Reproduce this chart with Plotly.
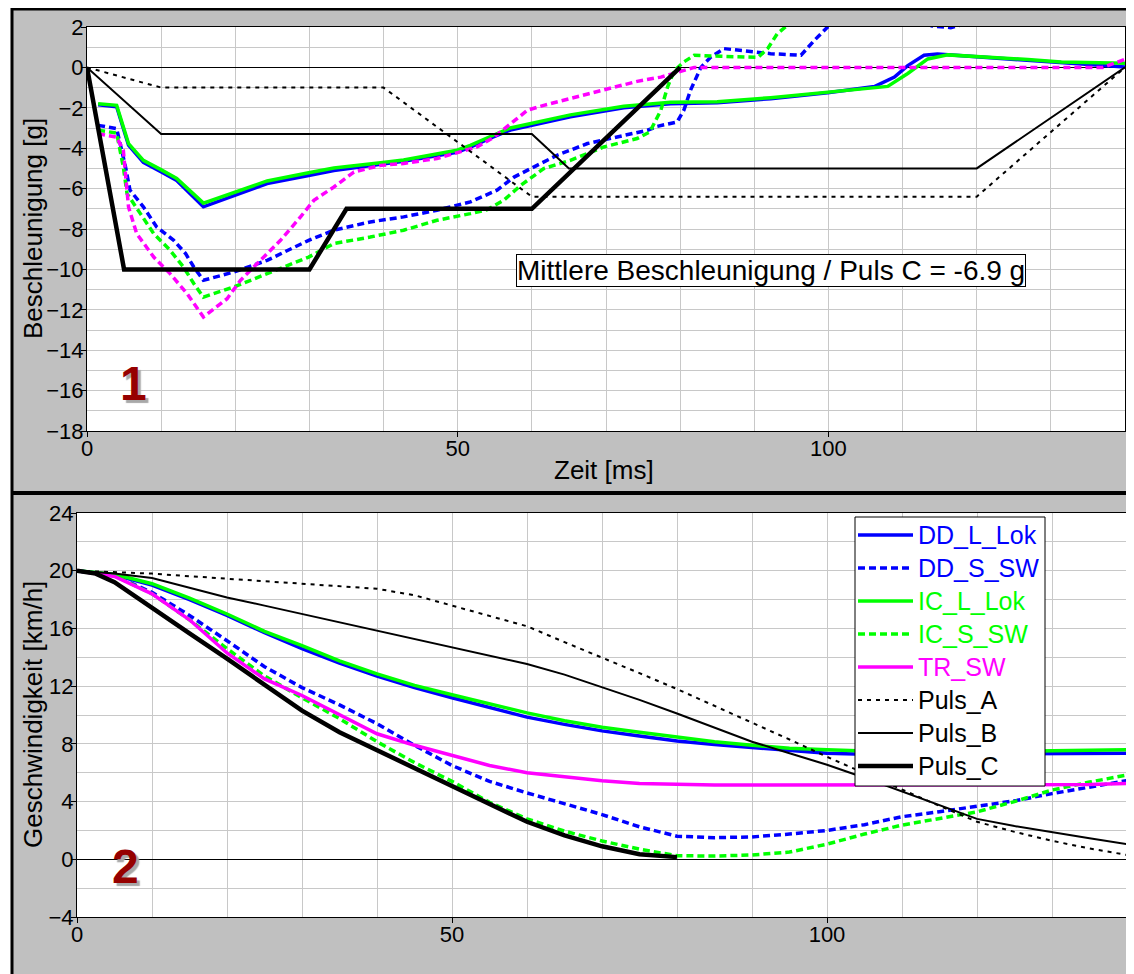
import plotly.graph_objects as go

# Browser body margin is 8 px; the figure is placed at (8, 8) on the page.
OX, OY = 8, 8
W, H = 1134 - OX, 974 - OY
FONT = "Liberation Sans, Arial, sans-serif"

# ---------------- Panel 1: Beschleunigung [g] ----------------
t_dd_l_acc = [1.5, 4.0, 5.6, 7.6, 9.9, 12.1, 15.7, 19.8, 24.3, 29.9, 33.3, 39.6, 42.7, 49.9, 51.7,
              54.4, 57.1, 65.2, 72.4, 78.7, 85.0, 92.2, 99.9, 106.2, 108.9, 110.7, 112.9, 114.7,
              120.1, 126.9, 131.4, 140]
g_dd_l = [-1.85, -1.95, -3.85, -4.7, -5.15, -5.6, -6.9, -6.35, -5.75, -5.35, -5.1, -4.8, -4.65, -4.2,
          -3.95, -3.5, -3.1, -2.45, -2.0, -1.8, -1.75, -1.55, -1.25, -0.95, -0.48, 0.09, 0.6, 0.66,
          0.52, 0.35, 0.22, 0.02]

t_ic_l_acc = [1.5, 4.0, 5.6, 7.6, 9.9, 12.1, 15.7, 19.8, 24.3, 29.9, 33.3, 39.6, 42.7, 49.9, 51.7,
              54.4, 57.1, 65.2, 72.4, 78.7, 85.0, 92.2, 99.9, 106.2, 108.0, 110.7, 113.4, 116.1,
              120.1, 126.9, 131.4, 137.2, 140]
g_ic_l = [-1.8, -1.88, -3.77, -4.6, -5.05, -5.5, -6.72, -6.2, -5.62, -5.22, -4.98, -4.72, -4.58, -4.1,
          -3.86, -3.42, -3.0, -2.35, -1.92, -1.72, -1.7, -1.5, -1.22, -1.0, -0.94, -0.3, 0.42, 0.62,
          0.55, 0.39, 0.27, 0.22, 0.2]

t_dd_s_acc = [1.5, 4.0, 5.2, 5.8, 7.6, 9.4, 11.7, 13.3, 14.4, 15.7, 19.8, 24.3, 29.9, 33.3, 38.2,
              42.7, 47.2, 51.7, 55.3, 57.6, 60.7, 63.4, 67.5, 72.4, 75.6, 76.9, 79.6, 80.5, 81.4,
              82.8, 84.1, 85.9, 87.7, 92.2, 96.3, 98.1, 99.9, 103, 107, 111, 114, 116.5, 119, 123,
              130, 140]
g_dd_s = [-2.87, -3.03, -4.93, -6.08, -6.9, -7.9, -8.56, -9.22, -9.88, -10.54, -10.13, -9.55, -8.56,
          -8.06, -7.65, -7.4, -7.07, -6.66, -6.08, -5.43, -4.85, -4.35, -3.77, -3.36, -3.11, -2.92,
          -2.7, -2.12, -1.13, 0.0, 0.5, 0.93, 0.85, 0.68, 0.6, 1.34, 2.0, 2.6, 2.8, 2.4, 2.05, 1.97,
          2.2, 2.6, 2.7, 2.5]

t_ic_s_acc = [1.5, 4.0, 4.9, 5.4, 7.2, 9.0, 11.2, 13.0, 14.4, 15.7, 19.8, 24.3, 29.9, 33.3, 38.2,
              42.7, 47.2, 51.7, 54.0, 56.2, 58.5, 61.6, 65.2, 69.7, 74.2, 75.9, 77.4, 78.3, 79.2,
              80.5, 81.9, 85.5, 90.5, 91.8, 93.1, 94.2, 97, 102, 110, 120, 130, 140]
g_ic_s = [-3.11, -3.25, -4.93, -6.25, -7.24, -8.23, -9.05, -9.88, -10.7, -11.37, -10.87, -10.21,
          -9.39, -8.72, -8.4, -8.06, -7.57, -7.24, -7.04, -6.58, -5.84, -5.01, -4.6, -3.94, -3.52,
          -3.2, -2.12, -0.97, -0.16, 0.27, 0.6, 0.55, 0.5, 0.93, 1.67, 2.0, 2.8, 3.6, 3.8, 3.5, 3.3, 3.0]

t_tr_acc = [1.5, 4.0, 4.9, 5.6, 6.7, 9.0, 11.2, 13.5, 15.7, 18.9, 20.7, 22.9, 26.1, 28.8, 30.6,
            33.3, 36.0, 39.6, 42.7, 47.2, 50.4, 52.6, 54.9, 57.1, 59.4, 61.6, 65.2, 69.7, 74.2,
            77.4, 79.6, 81.9, 137, 140]
g_tr = [-3.28, -3.45, -4.1, -6.91, -8.23, -9.39, -10.21, -11.2, -12.36, -11.45, -10.54, -9.72,
        -8.56, -7.4, -6.58, -5.92, -5.18, -4.85, -4.76, -4.51, -4.19, -3.94, -3.45, -2.78, -2.12,
        -1.88, -1.54, -1.1, -0.69, -0.48, -0.23, 0.0, 0.0, 0.4]

t_puls_a_acc = [0, 10, 40, 60, 120, 140]
g_puls_a = [0, -1, -1, -6.4, -6.4, 0]
t_puls_b_acc = [0, 10, 60, 65, 120, 140]
g_puls_b = [0, -3.3, -3.3, -5.0, -5.0, 0]
t_puls_c_acc = [0, 5, 30, 35, 60, 80]
g_puls_c = [0, -10, -10, -7, -7, 0]

# ---------------- Panel 2: Geschwindigkeit [km/h] ----------------
t_v = [0, 5, 10, 15, 20, 25, 30, 35, 40, 45, 50, 55, 60, 65, 70, 75, 80, 85, 90, 95, 100,
       105, 110, 115, 120, 125, 130, 135, 140]
v_dd_l = [20, 19.7, 19.0, 18.0, 16.9, 15.7, 14.6, 13.6, 12.7, 11.9, 11.2, 10.5, 9.85, 9.35, 8.9,
          8.55, 8.2, 7.95, 7.75, 7.55, 7.35, 7.28, 7.25, 7.27, 7.3, 7.32, 7.33, 7.34, 7.35]
v_ic_l = [20, 19.75, 19.1, 18.1, 17.0, 15.8, 14.8, 13.75, 12.85, 12.05, 11.4, 10.75, 10.15, 9.6,
          9.15, 8.8, 8.45, 8.15, 7.9, 7.7, 7.6, 7.5, 7.42, 7.42, 7.45, 7.5, 7.55, 7.58, 7.6]
v_dd_s = [20, 19.65, 18.5, 16.9, 15.15, 13.35, 11.9, 10.7, 9.4, 7.9, 6.5, 5.4, 4.6, 3.85, 3.1,
          2.25, 1.6, 1.5, 1.55, 1.75, 2.0, 2.4, 2.95, 3.3, 3.65, 4.05, 4.55, 5.0, 5.45]
v_ic_s = [20, 19.65, 18.4, 16.6, 14.6, 12.7, 11.2, 9.75, 8.15, 6.7, 5.4, 3.95, 2.8, 1.95, 1.27,
          0.7, 0.25, 0.22, 0.3, 0.5, 1.05, 1.75, 2.37, 2.85, 3.29, 4.0, 4.8, 5.35, 5.84]
v_tr = [20, 19.6, 18.4, 16.6, 14.3, 12.5, 11.35, 10.0, 8.7, 7.9, 7.2, 6.5, 6.0, 5.7, 5.45, 5.25,
        5.17, 5.15, 5.15, 5.15, 5.15, 5.15, 5.15, 5.15, 5.15, 5.15, 5.15, 5.18, 5.25]
v_puls_a = [20, 19.9, 19.8, 19.62, 19.45, 19.28, 19.1, 18.93, 18.75, 18.3, 17.6, 16.9, 16.15,
            15.05, 14.0, 12.9, 11.8, 10.65, 9.45, 8.3, 7.1, 5.95, 4.8, 3.7, 2.6, 1.9, 1.28, 0.75, 0.3]
v_puls_b = [20, 19.8, 19.5, 18.85, 18.15, 17.58, 17.0, 16.42, 15.84, 15.24, 14.64, 14.08, 13.53,
            12.8, 11.95, 11.05, 10.1, 9.12, 8.15, 7.35, 6.55, 5.65, 4.7, 3.75, 2.8, 2.3, 1.86, 1.45, 1.05]
t_puls_c_v = [0, 2.5, 5, 10, 15, 20, 25, 30, 35, 40, 45, 50, 55, 60, 65, 70, 75, 80]
v_puls_c = [20, 19.8, 19.2, 17.4, 15.65, 13.9, 12.1, 10.3, 8.8, 7.55, 6.3, 5.1, 3.85, 2.6, 1.65,
            0.9, 0.35, 0.15]

series_names = ["DD_L_Lok", "DD_S_SW", "IC_L_Lok", "IC_S_SW", "TR_SW", "Puls_A", "Puls_B", "Puls_C"]
x_ticks = [0, 50, 100]

# ---------------- styles ----------------
BLUE, GREEN, MAG, BLK = "#0000ff", "#00ff00", "#ff00ff", "#000000"
DOT = "7px,4px"
styles = {
    "DD_L_Lok": dict(color=BLUE, width=3.5, dash="solid"),
    "DD_S_SW": dict(color=BLUE, width=3.5, dash=DOT),
    "IC_L_Lok": dict(color=GREEN, width=3.5, dash="solid"),
    "IC_S_SW": dict(color=GREEN, width=3.5, dash=DOT),
    "TR_SW": dict(color=MAG, width=3.5, dash="solid"),
    "Puls_A": dict(color=BLK, width=2, dash="4px,5px"),
    "Puls_B": dict(color=BLK, width=2, dash="solid"),
    "Puls_C": dict(color=BLK, width=4.5, dash="solid"),
}
top_styles = dict(styles)
top_styles["TR_SW"] = dict(color=MAG, width=3.5, dash=DOT)

top_data = {
    "DD_L_Lok": (t_dd_l_acc, g_dd_l),
    "DD_S_SW": (t_dd_s_acc, g_dd_s),
    "IC_L_Lok": (t_ic_l_acc, g_ic_l),
    "IC_S_SW": (t_ic_s_acc, g_ic_s),
    "TR_SW": (t_tr_acc, g_tr),
    "Puls_A": (t_puls_a_acc, g_puls_a),
    "Puls_B": (t_puls_b_acc, g_puls_b),
    "Puls_C": (t_puls_c_acc, g_puls_c),
}
bot_data = {
    "DD_L_Lok": (t_v, v_dd_l),
    "DD_S_SW": (t_v, v_dd_s),
    "IC_L_Lok": (t_v, v_ic_l),
    "IC_S_SW": (t_v, v_ic_s),
    "TR_SW": (t_v, v_tr),
    "Puls_A": (t_v, v_puls_a),
    "Puls_B": (t_v, v_puls_b),
    "Puls_C": (t_puls_c_v, v_puls_c),
}

fig = go.Figure()
for name in series_names:
    tx, ty = top_data[name]
    fig.add_trace(go.Scatter(x=tx, y=ty, mode="lines", name=name, line=top_styles[name],
                             xaxis="x", yaxis="y", showlegend=False, hoverinfo="skip"))
for name in series_names:
    tx, ty = bot_data[name]
    fig.add_trace(go.Scatter(x=tx, y=ty, mode="lines", name=name, line=styles[name],
                             xaxis="x2", yaxis="y2", showlegend=False, hoverinfo="skip"))


def px(x):
    """page pixel x -> paper fraction"""
    return (x - OX) / W


def py(y):
    """page pixel y -> paper fraction"""
    return 1 - (y - OY) / H


GRID = "#c8c8c8"
axis_common = dict(showline=True, linecolor="black", linewidth=1, mirror=True, ticks="outside",
                   ticklen=5, tickcolor="black", showgrid=True, gridcolor=GRID, gridwidth=1,
                   automargin=False, ticklabelstandoff=-7,
                   tickfont=dict(family=FONT, size=22, color="black"), fixedrange=True)

TOP_X = (87, 1125)
TOP_Y = (27, 431)
BOT_X = (77, 1127)
BOT_Y = (513, 917)

fig.update_layout(
    width=W, height=H, margin=dict(l=0, r=0, t=0, b=0, pad=0, autoexpand=False),
    paper_bgcolor="white", plot_bgcolor="white", showlegend=False,
    font=dict(family=FONT, color="black"),
    xaxis=dict(domain=[px(TOP_X[0]), px(TOP_X[1])], anchor="y", range=[0, 140], tickmode="array",
               tickvals=x_ticks, minor=dict(dtick=10, tick0=0, showgrid=True, gridcolor=GRID),
               zeroline=False, **axis_common),
    yaxis=dict(domain=[py(TOP_Y[1]), py(TOP_Y[0])], anchor="x", range=[-18, 2], dtick=2, tick0=0,
               minor=dict(dtick=1, tick0=0, showgrid=True, gridcolor=GRID),
               zeroline=True, zerolinecolor="black", zerolinewidth=1, **axis_common),
    xaxis2=dict(domain=[px(BOT_X[0]), px(BOT_X[1])], anchor="y2", range=[0, 140], tickmode="array",
                tickvals=x_ticks, minor=dict(dtick=10, tick0=0, showgrid=True, gridcolor=GRID),
                zeroline=False, **axis_common),
    yaxis2=dict(domain=[py(BOT_Y[1]), py(BOT_Y[0])], anchor="x2", range=[-4, 24], dtick=4, tick0=0,
                minor=dict(dtick=2, tick0=0, showgrid=True, gridcolor=GRID),
                zeroline=True, zerolinecolor="black", zerolinewidth=1, **axis_common),
)

shapes = [
    # gray panel background with black frame
    dict(type="rect", xref="paper", yref="paper", x0=px(12), x1=px(1140), y0=py(990), y1=py(9),
         fillcolor="#c0c0c0", line=dict(color="black", width=3), layer="below"),
    # separator between the two panels
    dict(type="line", xref="paper", yref="paper", x0=px(12), x1=px(1140), y0=py(493), y1=py(493),
         line=dict(color="black", width=4), layer="below"),
    # white plotting areas
    dict(type="rect", xref="paper", yref="paper", x0=px(TOP_X[0]), x1=px(TOP_X[1]),
         y0=py(TOP_Y[1]), y1=py(TOP_Y[0]), fillcolor="white", line=dict(width=0), layer="below"),
    dict(type="rect", xref="paper", yref="paper", x0=px(BOT_X[0]), x1=px(BOT_X[1]),
         y0=py(BOT_Y[1]), y1=py(BOT_Y[0]), fillcolor="white", line=dict(width=0), layer="below"),
]

annotations = [
    dict(text="Beschleunigung [g]", x=px(33), y=py(229), textangle=-90),
    dict(text="Zeit [ms]", x=px(604), y=py(470)),
    dict(text="Geschwindigkeit [km/h]", x=px(33), y=py(715), textangle=-90),
]
annotations = [dict(a, xref="paper", yref="paper", showarrow=False, xanchor="center",
                    yanchor="middle", font=dict(family=FONT, size=26, color="black"))
               for a in annotations]

annotations.append(dict(text="Mittlere Beschleunigung / Puls C = -6.9 g", xref="paper",
                        yref="paper", x=px(770.5), y=py(271), showarrow=False,
                        xanchor="center", yanchor="middle", bgcolor="white",
                        bordercolor="black", borderwidth=1, borderpad=0,
                        font=dict(family=FONT, size=28, color="black")))

# panel numbers (dark red with a gray drop shadow)
for label, cx, cy in [("1", 133, 383), ("2", 125, 866)]:
    annotations.append(dict(text="<b>%s</b>" % label, xref="paper", yref="paper",
                            x=px(cx), y=py(cy), showarrow=False, xanchor="center",
                            yanchor="middle",
                            font=dict(family=FONT, size=48, color="#960000",
                                      shadow="3px 3px 1px #a8a8a8")))

# legend box (drawn manually to match the original layout)
LX0, LX1, LY0, LY1 = 855, 1045, 517, 786
shapes.append(dict(type="rect", xref="paper", yref="paper", x0=px(LX0), x1=px(LX1),
                   y0=py(LY1), y1=py(LY0), fillcolor="white", line=dict(color="black", width=1),
                   layer="above"))
for i, name in enumerate(series_names):
    yc = 535 + 33 * i
    st = styles[name]
    shapes.append(dict(type="line", xref="paper", yref="paper", x0=px(858), x1=px(913),
                       y0=py(yc), y1=py(yc),
                       line=dict(color=st["color"], width=st["width"], dash=st["dash"]),
                       layer="above"))
    annotations.append(dict(text=name, xref="paper", yref="paper", x=px(916), y=py(yc),
                            showarrow=False, xanchor="left", yanchor="middle",
                            font=dict(family=FONT, size=25, color=st["color"])))

fig.update_layout(shapes=shapes, annotations=annotations)
fig.write_html("out.html")
